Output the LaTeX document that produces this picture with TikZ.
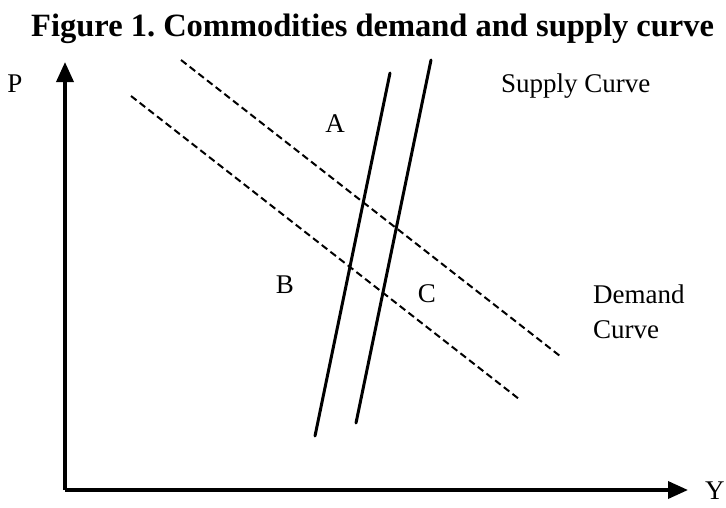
\documentclass[tikz,border=0pt]{standalone}
\usepackage{fontspec}
\setmainfont{Liberation Serif}
\usetikzlibrary{arrows.meta}
\tikzset{
  axis/.style={line width=3.5pt,-{Triangle[length=20pt,width=17pt]}},
  supply/.style={line width=3pt,line cap=round},
  demand/.style={line width=2pt,dash pattern=on 7pt off 4pt},
  lbl/.style={inner sep=0pt,font=\fontsize{27}{35}\selectfont},
}

\begin{document}
\begin{tikzpicture}[x=1pt,y=-1pt]
  \useasboundingbox (0,0) rectangle (726,507);

  \node[lbl,anchor=base west,font=\fontsize{32.5}{36}\selectfont\bfseries] (title) at (31,36)
    {Figure 1.\ Commodities demand and supply curve};

  % axes
  \coordinate (o) at (65,490);
  \coordinate (ptip) at (65,62);
  \coordinate (ytip) at (688,490);
  \draw[axis] (o) -- (ptip);
  \draw[axis] (o) -- (ytip);
  \node[lbl,anchor=base] (plbl) at (15,92) {P};
  \node[lbl,anchor=base west] (ylbl) at (705,499) {Y};

  % supply curves
  \coordinate (s1a) at (315,436);
  \coordinate (s1b) at (390,73);
  \coordinate (s2a) at (356,423);
  \coordinate (s2b) at (431,60);
  \draw[supply] (s1a) -- (s1b);
  \draw[supply] (s2a) -- (s2b);

  % demand curves
  \coordinate (d1a) at (181,60);
  \coordinate (d1b) at (560,356);
  \coordinate (d2a) at (131,96);
  \coordinate (d2b) at (519,399);
  \draw[demand] (d1a) -- (d1b);
  \draw[demand] (d2a) -- (d2b);

  \node[lbl,anchor=base] (ptA) at (335,132) {A};
  \node[lbl,anchor=base] (ptB) at (285,293) {B};
  \node[lbl,anchor=base] (ptC) at (427,302) {C};
  \node[lbl,anchor=base west] (slbl) at (501,92) {Supply Curve};
  \node[lbl,anchor=base west,align=left] (dlbl) at (593,338) {Demand\\Curve};
\end{tikzpicture}
\end{document}
